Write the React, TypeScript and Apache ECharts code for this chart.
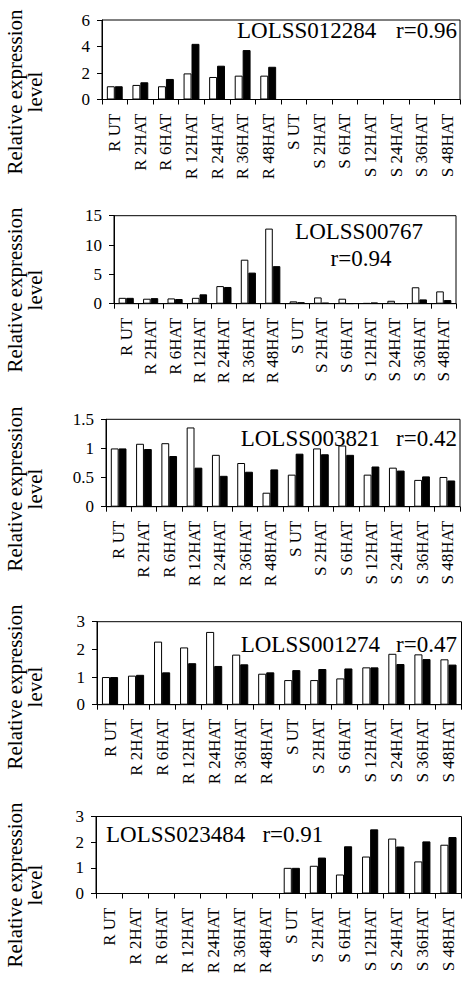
import React, { useEffect, useRef } from "react";
import * as echarts from "echarts";

const categories = [
  "R UT", "R 2HAT", "R 6HAT", "R 12HAT", "R 24HAT", "R 36HAT", "R 48HAT",
  "S UT", "S 2HAT", "S 6HAT", "S 12HAT", "S 24HAT", "S 36HAT", "S 48HAT",
];

const p1White = [1.0, 1.1, 1.0, 1.97, 1.7, 1.8, 1.8, 0, 0, 0, 0, 0, 0, 0];
const p1Black = [1.0, 1.3, 1.55, 4.2, 2.55, 3.73, 2.47, 0, 0, 0, 0, 0, 0, 0];
const p2White = [1.0, 0.85, 0.9, 1.0, 3.0, 7.5, 12.8, 0.4, 1.07, 0.85, 0.1, 0.5, 2.8, 2.1];
const p2Black = [1.0, 0.95, 0.8, 1.6, 2.85, 5.3, 6.4, 0.25, 0.17, 0.05, 0.2, 0.05, 0.73, 0.62];
const p3White = [1.0, 1.08, 1.09, 1.36, 0.89, 0.75, 0.24, 0.55, 1.0, 1.05, 0.55, 0.67, 0.46, 0.51];
const p3Black = [1.0, 0.99, 0.87, 0.67, 0.53, 0.6, 0.64, 0.91, 0.9, 0.89, 0.69, 0.62, 0.52, 0.45];
const p4White = [1.0, 1.05, 2.28, 2.07, 2.63, 1.81, 1.12, 0.89, 0.89, 0.95, 1.35, 1.84, 1.82, 1.64];
const p4Black = [1.0, 1.08, 1.17, 1.5, 1.4, 1.46, 1.17, 1.25, 1.29, 1.31, 1.35, 1.47, 1.65, 1.45];
const p5White = [0, 0, 0, 0, 0, 0, 0, 1.0, 1.08, 0.74, 1.44, 2.14, 1.25, 1.9];
const p5Black = [0, 0, 0, 0, 0, 0, 0, 1.0, 1.4, 1.84, 2.5, 1.83, 2.03, 2.2];

const genes = ["LOLSS012284", "LOLSS00767", "LOLSS003821", "LOLSS001274", "LOLSS023484"];
const correlations = ["r=0.96", "r=0.94", "r=0.42", "r=0.47", "r=0.91"];
const yMax = [6, 15, 1.5, 3, 3];
const yInterval = [2, 5, 0.5, 1, 1];
const yTitle = "Relative expression\nlevel";

const whiteData = [p1White, p2White, p3White, p4White, p5White];
const blackData = [p1Black, p2Black, p3Black, p4Black, p5Black];

const FONT = "Liberation Serif";

const grids = [
  { left: 102, top: 20, right: 2, height: 79.5 },
  { left: 114, top: 215.7, right: 6, height: 88 },
  { left: 106, top: 419.3, right: 2, height: 87.4 },
  { left: 97, top: 621.7, right: 0.5, height: 83 },
  { left: 96, top: 816.5, right: 0.5, height: 77 },
];
const titleCenters = [92, 290, 489, 687, 885];

export default function App() {
  const ref = useRef<HTMLDivElement>(null);
  useEffect(() => {
    if (!ref.current) return;
    const chart = echarts.init(ref.current, null, { renderer: "svg" });
    const xAxis: any[] = [];
    const yAxis: any[] = [];
    const series: any[] = [];
    const graphic: any[] = [];
    grids.forEach((g, i) => {
      xAxis.push({
        type: "category",
        gridIndex: i,
        data: categories,
        boundaryGap: true,
        axisLine: { show: true, lineStyle: { color: "#000", width: 1 } },
        axisTick: { show: true, length: 5, inside: false, lineStyle: { color: "#000" } },
        axisLabel: {
          rotate: 90,
          interval: 0,
          margin: 14,
          fontSize: 17,
          fontFamily: FONT,
          color: "#000",
        },
        splitLine: { show: false },
      });
      yAxis.push({
        type: "value",
        gridIndex: i,
        min: 0,
        max: yMax[i],
        interval: yInterval[i],
        axisLine: { show: true, lineStyle: { color: "#000", width: 1 } },
        axisTick: { show: true, length: 5, inside: false, lineStyle: { color: "#000" } },
        axisLabel: { margin: 12, fontSize: 17, fontFamily: FONT, color: "#000" },
        splitLine: { show: false },
      });
      series.push({
        type: "bar",
        name: "Open bars",
        xAxisIndex: i,
        yAxisIndex: i,
        data: whiteData[i],
        barGap: "0%",
        barCategoryGap: "38%",
        itemStyle: { color: "#fff", borderColor: "#000", borderWidth: 1 },
      });
      series.push({
        type: "bar",
        name: "Filled bars",
        xAxisIndex: i,
        yAxisIndex: i,
        data: blackData[i],
        barGap: "0%",
        barCategoryGap: "38%",
        itemStyle: { color: "#000", borderColor: "#000", borderWidth: 1 },
      });
      graphic.push({
        type: "text",
        x: 25,
        y: titleCenters[i],
        rotation: Math.PI / 2,
        style: {
          text: yTitle,
          fontSize: 21,
          fontFamily: FONT,
          fill: "#000",
          align: "center",
          verticalAlign: "middle",
          lineHeight: 20,
        },
      });
    });

    const annot = (text: string, x: number, y: number, align: string) => ({
      type: "text",
      x,
      y,
      style: {
        text,
        fontSize: 23,
        fontFamily: FONT,
        fill: "#000",
        align,
        verticalAlign: "middle",
      },
    });
    graphic.push(annot(genes[0], 237, 30.8, "left"));
    graphic.push(annot(correlations[0], 457, 30.8, "right"));
    graphic.push(annot(genes[1], 359, 231.3, "center"));
    graphic.push(annot(correlations[1], 361, 258, "center"));
    graphic.push(annot(genes[2], 240.7, 438, "left"));
    graphic.push(annot(correlations[2], 457, 438, "right"));
    graphic.push(annot(genes[3], 240.7, 644.3, "left"));
    graphic.push(annot(correlations[3], 457, 644.3, "right"));
    graphic.push(annot(genes[4], 106, 834.3, "left"));
    graphic.push(annot(correlations[4], 323.3, 834.3, "right"));

    chart.setOption({
      animation: false,
      backgroundColor: "#fff",
      grid: grids.map((g) => ({
        ...g,
        show: true,
        borderColor: "#000",
        borderWidth: 1,
        backgroundColor: "transparent",
        containLabel: false,
      })),
      xAxis,
      yAxis,
      series,
      graphic,
    });
    return () => chart.dispose();
  }, []);
  return (
    <div
      ref={ref}
      style={{ position: "absolute", left: 0, top: 0, width: 462, height: 981 }}
    />
  );
}
